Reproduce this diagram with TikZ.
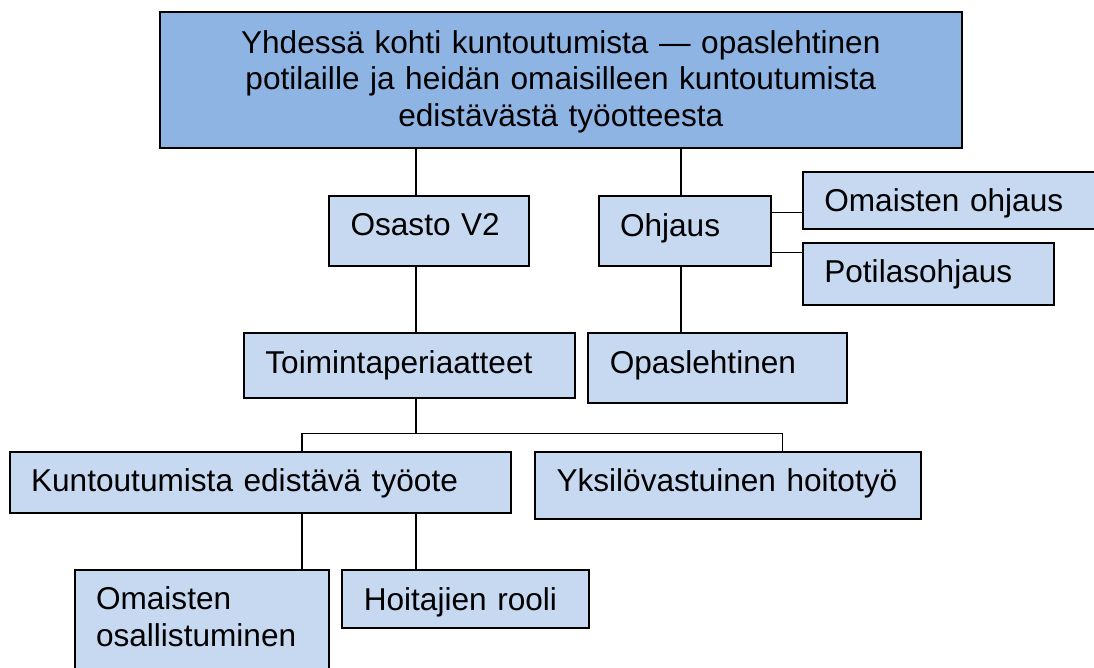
\documentclass[tikz,border=0pt]{standalone}
\usepackage{fontspec}
\setmainfont{Liberation Sans}
\definecolor{topblue}{HTML}{8EB4E3}
\definecolor{lightblue}{HTML}{C6D9F1}
\tikzset{
  box/.style={draw=black, line width=2pt, fill=lightblue, anchor=north west,
    inner xsep=21.5pt, inner ysep=0pt, outer sep=0pt, align=left,
    font=\fontsize{31.6}{36.7}\selectfont, text height=40pt},
  conn/.style={line width=1.5pt, draw=black}
}
\begin{document}
\begin{tikzpicture}[x=1pt,y=-1pt]
\useasboundingbox (0,0) rectangle (1094,668);
\clip (0,0) rectangle (1094,668);
\fill[white] (0,0) rectangle (1094,668);
% nodes
\node[box, fill=topblue, align=center, text width=759.5pt, text height=41pt, text depth=94.7pt] (top) at (159.5,12.3)
  {Yhdessä kohti kuntoutumista — opaslehtinen\\potilaille ja heidän omaisilleen kuntoutumista\\edistävästä työotteesta};
\node[box, text width=157.3pt, text depth=29.7pt] (osasto) at (329,196) {Osasto V2};
\node[box, text width=129.7pt, text depth=29.8pt] (ohjaus) at (598.5,196.5) {Ohjaus};
\node[box, text width=264.2pt, text depth=17.3pt] (omo) at (802.8,171.7) {Omaisten ohjaus};
\node[box, text width=208.5pt, text depth=22.3pt] (pot) at (802.8,242.7) {Potilasohjaus};
\node[box, text width=288.1pt, text depth=24.7pt] (toim) at (243.9,333.3) {Toimintaperiaatteet};
\node[box, text width=215.4pt, text depth=29.7pt] (opas) at (588.3,333.3) {Opaslehtinen};
\node[box, text width=458.1pt, text depth=21.6pt] (kunt) at (9.6,451.7) {Kuntoutumista edistävä työote};
\node[box, text width=343pt, text depth=27pt] (yks) at (535,451.7) {Yksilövastuinen hoitotyö};
\node[box, text width=211.8pt, text depth=90pt] (omos) at (74.5,569.5) {Omaisten\\osallistuminen};
\node[box, text width=203.7pt, text depth=18.3pt] (hoit) at (342.3,570) {Hoitajien rooli};
% helper coordinates
\coordinate (xa) at (416,0);
\coordinate (xb) at (681,0);
\coordinate (xc) at (301.8,0);
\coordinate (xd) at (782.7,0);
\coordinate (ya) at (0,212.7);
\coordinate (yb) at (0,252.3);
\coordinate (bus) at (0,433.3);
% connectors
\draw[conn] (top.south -| xa) -- (osasto.north -| xa);
\draw[conn] (top.south -| xb) -- (ohjaus.north -| xb);
\draw[conn] (osasto.south -| xa) -- (toim.north -| xa);
\draw[conn] (ohjaus.south -| xb) -- (opas.north -| xb);
\draw[conn] (ohjaus.east |- ya) -- (omo.west |- ya);
\draw[conn] (ohjaus.east |- yb) -- (pot.west |- yb);
\draw[conn] (toim.south -| xa) -- (bus -| xa);
\draw[conn] (kunt.north -| xc) -- (bus -| xc) -- (bus -| xd) -- (yks.north -| xd);
\draw[conn] (kunt.south -| xc) -- (omos.north -| xc);
\draw[conn] (kunt.south -| xa) -- (hoit.north -| xa);
\end{tikzpicture}
\end{document}
